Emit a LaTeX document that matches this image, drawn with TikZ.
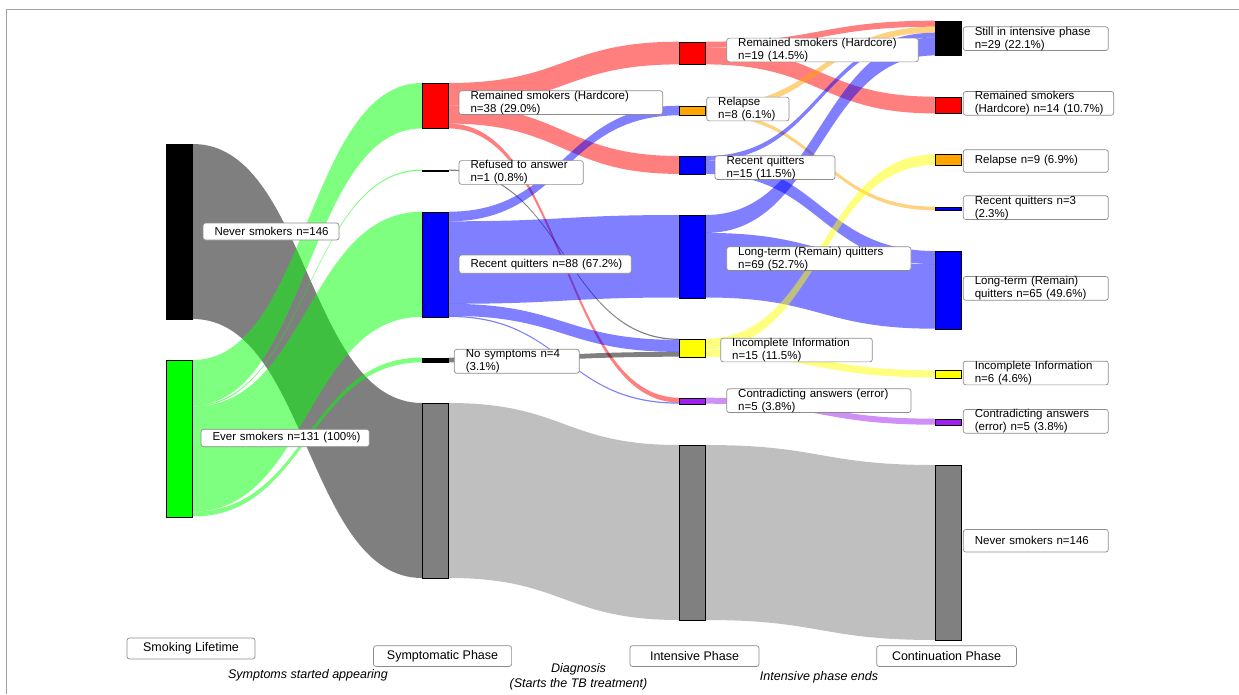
\documentclass[tikz,border=0pt]{standalone}
\usepackage{fontspec}
\setmainfont{Liberation Sans}
\usetikzlibrary{calc,backgrounds}
\definecolor{cpurple}{HTML}{A020F0}
\definecolor{corange}{HTML}{FFA500}
\definecolor{cgray}{HTML}{808080}
\definecolor{cgreen}{HTML}{00FF00}
\definecolor{cred}{HTML}{FF0000}
\definecolor{cblue}{HTML}{0000FF}
\definecolor{cyellow}{HTML}{FFFF00}
\definecolor{lblframe}{HTML}{8C8C8C}
\definecolor{frameline}{HTML}{A0A0A0}
\newcommand\ml[1]{\mbox{#1}}
\newcommand\flow[6]{%
  \fill[#1, fill opacity=0.5] let \p1=(#2.north east), \p2=(#5.north west), \p3=($(\p1)!0.5!(\p2)$) in
  (\x1,{\y1-#3pt}) .. controls (\x3,{\y1-#3pt}) and (\x3,{\y2-#6pt}) .. (\x2,{\y2-#6pt})
  -- (\x2,{\y2-#6pt-#4pt}) .. controls (\x3,{\y2-#6pt-#4pt}) and (\x3,{\y1-#3pt-#4pt}) .. (\x1,{\y1-#3pt-#4pt}) -- cycle;}
\newcommand\sbar[5]{%
  \pgfmathsetmacro\hh{#5-#4}%
  \node[barst, fill=#2, minimum height=\hh pt] (#1) at (#3,#4) {};}
\newcommand\lab[6]{%
  \pgfmathsetmacro\lw{#4-#2-23}\pgfmathsetmacro\lh{#5-#3}%
  \pgfmathsetmacro\lcx{(#2+#4)/2}\pgfmathsetmacro\lcy{(#3+#5)/2}%
  \node[lbl, text width=\lw pt, minimum height=\lh pt] (#1) at (\lcx,\lcy) {#6};}
\newcommand\plab[6]{%
  \pgfmathsetmacro\lw{#4-#2}\pgfmathsetmacro\lh{#5-#3}%
  \pgfmathsetmacro\lcx{(#2+#4)/2}\pgfmathsetmacro\lcy{(#3+#5)/2}%
  \node[phase, minimum width=\lw pt, minimum height=\lh pt] (#1) at (\lcx,\lcy) {#6};}
\begin{document}
\begin{tikzpicture}[x=1pt, y=-1pt,
  barst/.style={draw=black, line width=0.9pt, minimum width=26pt, inner sep=0pt, anchor=north west},
  lbl/.style={draw=lblframe, fill=white, rounded corners=2.5pt, line width=0.7pt, inner xsep=11.5pt, inner ysep=0pt, align=left, font=\fontsize{11.5}{13}\selectfont},
  phase/.style={draw=lblframe, fill=white, rounded corners=2.5pt, line width=0.7pt, inner sep=0pt, align=center, font=\fontsize{12.5}{14}\selectfont},
  note/.style={inner sep=0pt, align=center, font=\fontsize{12.5}{15}\selectfont\itshape},
  frame/.style={draw=frameline, line width=1pt}]
\useasboundingbox (0,0) rectangle (1239,694);
\draw[frame] (6.7,694) -- (6.7,9.3) -- (1239,9.3);
% bars
\sbar{A1}{black}{166}{144}{319}
\sbar{A2}{cgreen}{166}{360}{516.5}
\sbar{B1}{cred}{422}{83}{128.4}
\sbar{B2}{black}{422}{169.5}{170.7}
\sbar{B3}{cblue}{422}{211.7}{317}
\sbar{B4}{black}{422}{357.5}{362.3}
\sbar{B5}{cgray}{422}{403}{578}
\sbar{C1}{cred}{679}{41.7}{64.4}
\sbar{C2}{corange}{679}{105.7}{115.3}
\sbar{C3}{cblue}{679}{156}{173.9}
\sbar{C4}{cblue}{679}{215}{297.5}
\sbar{C5}{cyellow}{679}{338.7}{356.7}
\sbar{C6}{cpurple}{679}{397.7}{403.7}
\sbar{C7}{cgray}{679}{445}{620}
\sbar{D1}{black}{935}{20.7}{55.4}
\sbar{D2}{cred}{935}{96.7}{113.4}
\sbar{D3}{corange}{935}{154.3}{165.1}
\sbar{D4}{cblue}{935}{206.7}{210.3}
\sbar{D5}{cblue}{935}{251}{328.7}
\sbar{D6}{cyellow}{935}{370.3}{377.5}
\sbar{D7}{cpurple}{935}{418.7}{424.7}
\sbar{D8}{cgray}{935}{465}{640}
% flows
\begin{scope}[on background layer]
\flow{black}{A1}{0}{175}{B5}{0}
\flow{cgreen}{A2}{0}{45.4}{B1}{0}
\flow{cgreen}{A2}{45.4}{1.2}{B2}{0}
\flow{cgreen}{A2}{46.6}{105.1}{B3}{0}
\flow{cgreen}{A2}{151.7}{4.8}{B4}{0}
\flow{cred}{B1}{0}{22.7}{C1}{0}
\flow{cred}{B1}{22.7}{17.9}{C3}{0}
\flow{cred}{B1}{40.6}{4.8}{C6}{0}
\flow{black}{B2}{0}{1.2}{C5}{0}
\flow{cblue}{B3}{0}{9.6}{C2}{0}
\flow{cblue}{B3}{9.6}{82.5}{C4}{0}
\flow{cblue}{B3}{92.1}{12}{C5}{1.2}
\flow{cblue}{B3}{104.1}{1.2}{C6}{4.8}
\flow{black}{B4}{0}{4.8}{C5}{13.2}
\flow{cgray}{B5}{0}{175}{C7}{0}
\flow{cred}{C1}{0}{6}{D1}{0}
\flow{cred}{C1}{6}{16.7}{D2}{0}
\flow{corange}{C2}{0}{6}{D1}{6}
\flow{corange}{C2}{6}{3.6}{D4}{0}
\flow{cblue}{C3}{0}{4.8}{D1}{12}
\flow{cblue}{C3}{4.8}{13.1}{D5}{0}
\flow{cblue}{C4}{0}{17.9}{D1}{16.8}
\flow{cblue}{C4}{17.9}{64.6}{D5}{13.1}
\flow{cyellow}{C5}{0}{10.8}{D3}{0}
\flow{cyellow}{C5}{10.8}{7.2}{D6}{0}
\flow{cpurple}{C6}{0}{6}{D7}{0}
\flow{cgray}{C7}{0}{175}{D8}{0}
\end{scope}
% labels
\lab{lA1}{203}{223}{339}{240}{\ml{Never smokers n=146}}
\lab{lA2}{201}{429.3}{369.3}{446.7}{\ml{Ever smokers n=131 (100\%)}}
\lab{lB1}{459}{91}{662.7}{114.3}{\ml{Remained smokers (Hardcore)}\\\ml{n=38 (29.0\%)}}
\lab{lB2}{459}{161}{583.3}{184}{\ml{Refused to answer}\\\ml{n=1 (0.8\%)}}
\lab{lB3}{459}{255}{631.3}{273.3}{\ml{Recent quitters n=88 (67.2\%)}}
\lab{lB4}{454.3}{349.3}{579.3}{373.3}{\ml{No symptoms n=4}\\\ml{(3.1\%)}}
\lab{lC1}{726.7}{38.3}{918.3}{61.7}{\ml{Remained smokers (Hardcore)}\\\ml{n=19 (14.5\%)}}
\lab{lC2}{706.7}{97.3}{789}{120.7}{\ml{Relapse}\\\ml{n=8 (6.1\%)}}
\lab{lC3}{715}{156}{835}{179.3}{\ml{Recent quitters}\\\ml{n=15 (11.5\%)}}
\lab{lC4}{726.7}{247.3}{911}{270}{\ml{Long-term (Remain) quitters}\\\ml{n=69 (52.7\%)}}
\lab{lC5}{720.7}{338.3}{872.3}{361.7}{\ml{Incomplete Information}\\\ml{n=15 (11.5\%)}}
\lab{lC6}{726.7}{389.3}{911}{412}{\ml{Contradicting answers (error)}\\\ml{n=5 (3.8\%)}}
\lab{lD1}{963.3}{27.3}{1108.3}{50}{\ml{Still in intensive phase}\\\ml{n=29 (22.1\%)}}
\lab{lD2}{963.3}{91.7}{1113.7}{115}{\ml{Remained smokers}\\\ml{(Hardcore) n=14 (10.7\%)}}
\lab{lD3}{963.3}{149.7}{1108.3}{172.3}{\ml{Relapse n=9 (6.9\%)}}
\lab{lD4}{963.3}{196.3}{1108.3}{219}{\ml{Recent quitters n=3}\\\ml{(2.3\%)}}
\lab{lD5}{963.3}{276.7}{1108.3}{300}{\ml{Long-term (Remain)}\\\ml{quitters n=65 (49.6\%)}}
\lab{lD6}{963.3}{361.7}{1108.3}{384.3}{\ml{Incomplete Information}\\\ml{n=6 (4.6\%)}}
\lab{lD7}{963.3}{410}{1108.3}{432.7}{\ml{Contradicting answers}\\\ml{(error) n=5 (3.8\%)}}
\lab{lD8}{963.3}{529.5}{1108.3}{552}{\ml{Never smokers n=146}}
% phases
\plab{pA}{127}{638}{255}{659}{Smoking Lifetime}
\plab{pB}{373.5}{645.7}{511.6}{666.5}{Symptomatic Phase}
\plab{pC}{630}{645.7}{759}{666.5}{Intensive Phase}
\plab{pD}{876.7}{645.7}{1016.4}{666.5}{Continuation Phase}
\node[note] (n1) at (308,675) {Symptoms started appearing};
\node[note] (n2) at (578.5,676.5) {Diagnosis\\(Starts the TB treatment)};
\node[note] (n3) at (819,677) {Intensive phase ends};
\end{tikzpicture}
\end{document}
